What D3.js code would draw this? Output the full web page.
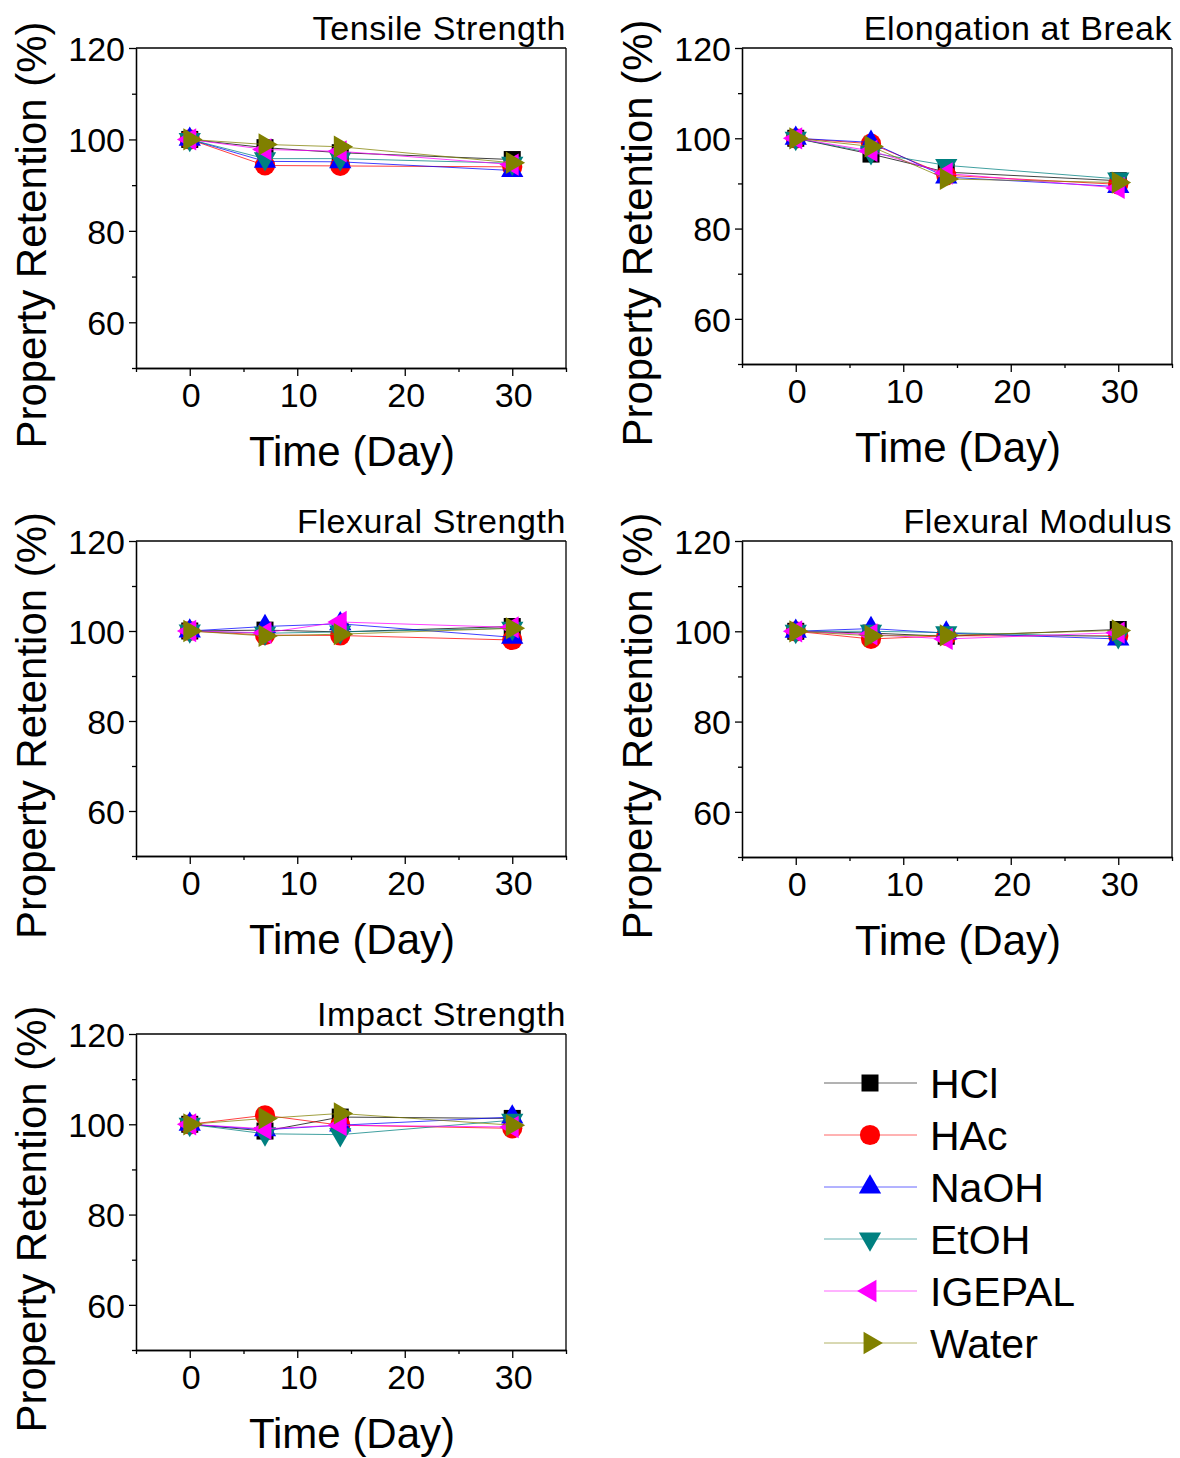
<!DOCTYPE html>
<html>
<head>
<meta charset="utf-8">
<script src="https://cdn.jsdelivr.net/npm/d3@7"></script>
<style>
  html, body { margin: 0; padding: 0; background: #fff; }
  svg { display: block; }
  text { font-family: "Liberation Sans", Arial, sans-serif; fill: #000; }
</style>
</head>
<body>
<svg id="chart" width="1180" height="1458"></svg>
<script>
// ---- data ----
const days = [0, 7, 14, 30];
const seriesNames = ["HCl", "HAc", "NaOH", "EtOH", "IGEPAL", "Water"];
const seriesColors = ["#000000", "#ff0000", "#0000ff", "#008080", "#ff00ff", "#808000"];
const seriesMarkers = ["square", "circle", "up", "down", "left", "right"];

const panelTitles = ["Tensile Strength", "Elongation at Break", "Flexural Strength", "Flexural Modulus", "Impact Strength"];
const xMajorTicks = [0, 10, 20, 30];
const xMinorTicks = [-5, 5, 15, 25, 35];
const yMajorTicks = [60, 80, 100, 120];
const yMinorTicks = [50, 70, 90, 110];
const xTitle = "Time (Day)";
const yTitle = "Property Retention (%)";

// rows follow seriesNames order; columns follow days
const tensileStrength = [
  [100, 98.2, 97.1, 95.6],
  [100, 94.3, 94.2, 94.0],
  [100, 95.2, 95.1, 93.2],
  [100, 95.8, 95.8, 94.8],
  [100, 97.8, 97.4, 94.5],
  [100, 98.9, 98.4, 94.9]
];
const elongationAtBreak = [
  [100, 96.5, 92.5, 90.6],
  [100, 98.8, 91.8, 89.8],
  [100, 99.1, 91.4, 89.3],
  [100, 96.8, 94.0, 91.0],
  [100, 97.2, 92.2, 89.0],
  [100, 98.2, 91.0, 90.2]
];
const flexuralStrength = [
  [100, 100.2, 99.8, 101.0],
  [100, 99.1, 99.0, 98.0],
  [100, 101.0, 101.6, 98.6],
  [100, 99.5, 99.8, 100.6],
  [100, 99.6, 102.0, 100.8],
  [100, 98.9, 99.3, 100.6]
];
const flexuralModulus = [
  [100, 99.6, 98.9, 100.4],
  [100, 98.3, 99.0, 99.0],
  [100, 100.6, 99.6, 98.3],
  [100, 100.0, 99.7, 98.8],
  [100, 99.3, 98.3, 99.7],
  [100, 99.0, 99.1, 100.2]
];
const impactStrength = [
  [100, 98.5, 101.6, 101.3],
  [100, 102.0, 99.8, 99.1],
  [100, 98.8, 99.8, 101.6],
  [100, 97.9, 97.7, 100.9],
  [100, 99.0, 99.8, 99.4],
  [100, 101.3, 102.4, 99.8]
];
const panelData = [tensileStrength, elongationAtBreak, flexuralStrength, flexuralModulus, impactStrength];

// ---- layout ----
const panelBoxes = [
  {left: 136, top: 48,   right: 566,  bottom: 368},
  {left: 742, top: 48,   right: 1172, bottom: 364},
  {left: 136, top: 541,  right: 566,  bottom: 856},
  {left: 742, top: 541,  right: 1172, bottom: 857},
  {left: 136, top: 1034, right: 566,  bottom: 1350}
];

const svg = d3.select("#chart");

function markerPath(kind) {
  if (kind === "square") return d3.symbol().type(d3.symbolSquare).size(289)();
  if (kind === "circle") return d3.symbol().type(d3.symbolCircle).size(320)();
  return d3.symbol().type(d3.symbolTriangle).size(215)();
}
function markerRotate(kind) {
  return {up: 0, down: 180, left: -90, right: 90}[kind] || 0;
}

panelData.forEach((rows, pi) => {
  const b = panelBoxes[pi];
  const x = d3.scaleLinear().domain([-5, 35]).range([b.left, b.right]);
  const y = d3.scaleLinear().domain([50, 120]).range([b.bottom, b.top]);
  const g = svg.append("g");

  // frame (top and right)
  g.append("line").attr("x1", b.left).attr("x2", b.right).attr("y1", b.top).attr("y2", b.top)
    .attr("stroke", "#000").attr("stroke-width", 1.3);
  g.append("line").attr("x1", b.right).attr("x2", b.right).attr("y1", b.top).attr("y2", b.bottom)
    .attr("stroke", "#000").attr("stroke-width", 1.3);

  // x axis
  const xAxisMajor = d3.axisBottom(x).tickValues(xMajorTicks).tickSize(8).tickSizeOuter(0).tickPadding(4).tickFormat(d3.format("d"));
  const xAxisMinor = d3.axisBottom(x).tickValues(xMinorTicks).tickSize(4).tickSizeOuter(0).tickFormat("");
  const gx = g.append("g").attr("transform", `translate(0,${b.bottom})`).call(xAxisMajor);
  g.append("g").attr("transform", `translate(0,${b.bottom})`).call(xAxisMinor);
  gx.selectAll("text").style("font-size", "34px").attr("dy", "0.71em").attr("y", 15).attr("x", 1);

  // y axis
  const yAxisMajor = d3.axisLeft(y).tickValues(yMajorTicks).tickSize(7).tickSizeOuter(0).tickPadding(4).tickFormat(d3.format("d"));
  const yAxisMinor = d3.axisLeft(y).tickValues(yMinorTicks).tickSize(4).tickSizeOuter(0).tickFormat("");
  const gy = g.append("g").attr("transform", `translate(${b.left},0)`).call(yAxisMajor);
  g.append("g").attr("transform", `translate(${b.left},0)`).call(yAxisMinor);
  gy.selectAll("text").style("font-size", "34px").attr("dy", "0.36em");

  g.selectAll(".domain, .tick line").attr("stroke", "#000").attr("stroke-width", 1.3);

  // titles
  g.append("text").attr("x", b.right).attr("y", b.top - 8).attr("text-anchor", "end")
    .style("font-size", "34px").style("letter-spacing", "0.6px").text(panelTitles[pi]);
  g.append("text").attr("x", (b.left + b.right) / 2 + 1).attr("y", b.bottom + 98)
    .attr("text-anchor", "middle").style("font-size", "42px").text(xTitle);
  g.append("text").attr("transform", `translate(${b.left - 90},${(b.top + b.bottom) / 2 + 27}) rotate(-90)`)
    .attr("text-anchor", "middle").style("font-size", "42px").text(yTitle);

  // series
  rows.forEach((vals, si) => {
    const pts = days.map((d, i) => [d, vals[i]]);
    const line = d3.line().x(p => x(p[0])).y(p => y(p[1]));
    g.append("path").datum(pts).attr("d", line).attr("fill", "none")
      .attr("stroke", seriesColors[si]).attr("stroke-width", 1).attr("stroke-opacity", 0.75);
    g.selectAll(null).data(pts).enter().append("path")
      .attr("d", markerPath(seriesMarkers[si]))
      .attr("transform", p => `translate(${x(p[0])},${y(p[1])}) rotate(${markerRotate(seriesMarkers[si])})`)
      .attr("fill", seriesColors[si]);
  });
});

// ---- legend ----
const legendRows = d3.scaleLinear().domain([0, 5]).range([1083, 1343]);
const lg = svg.append("g");
seriesNames.forEach((name, si) => {
  const yy = legendRows(si);
  lg.append("line").attr("x1", 824).attr("x2", 917).attr("y1", yy).attr("y2", yy)
    .attr("stroke", seriesColors[si]).attr("stroke-width", 1).attr("stroke-opacity", 0.6);
  lg.append("path").attr("d", markerPath(seriesMarkers[si]))
    .attr("transform", `translate(870,${yy}) rotate(${markerRotate(seriesMarkers[si])})`)
    .attr("fill", seriesColors[si]);
  lg.append("text").attr("x", 930).attr("y", yy).attr("dy", "0.36em")
    .style("font-size", "41px").text(name);
});
</script>
</body>
</html>
